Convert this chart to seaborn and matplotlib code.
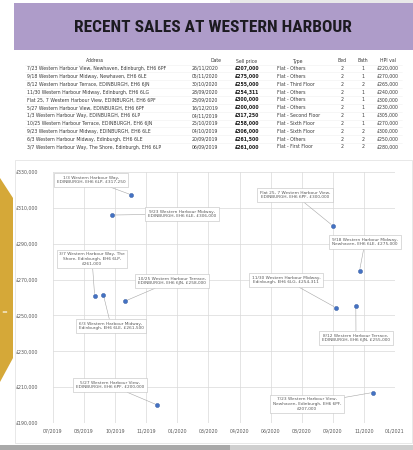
import matplotlib
matplotlib.use("Agg")
import matplotlib.pyplot as plt
import matplotlib.dates as mdates
import matplotlib.patches as mpatches
from matplotlib.ticker import FuncFormatter
from matplotlib import font_manager
import seaborn as sns
import pandas as pd

# ---------------- data ----------------
title = "RECENT SALES AT WESTERN HARBOUR"
columns = ["Address", "Date", "Sell price", "Type", "Bed", "Bath", "HPI val"]
addresses = [
    "7/23 Western Harbour View, Newhaven, Edinburgh, EH6 6PF",
    "9/18 Western Harbour Midway, Newhaven, EH6 6LE",
    "8/12 Western Harbour Terrace, EDINBURGH, EH6 6JN",
    "11/30 Western Harbour Midway, Edinburgh, EH6 6LG",
    "Flat 25, 7 Western Harbour View, EDINBURGH, EH6 6PF",
    "5/27 Western Harbour View, EDINBURGH, EH6 6PF",
    "1/3 Western Harbour Way, EDINBURGH, EH6 6LP",
    "10/25 Western Harbour Terrace, EDINBURGH, EH6 6JN",
    "9/23 Western Harbour Midway, EDINBURGH, EH6 6LE",
    "6/3 Western Harbour Midway, Edinburgh, EH6 6LE",
    "3/7 Western Harbour Way, The Shore, Edinburgh, EH6 6LP",
]
dates = ["26/11/2020", "05/11/2020", "30/10/2020", "28/09/2020", "23/09/2020",
         "16/12/2019", "04/11/2019", "25/10/2019", "04/10/2019", "20/09/2019",
         "06/09/2019"]
prices = [207000, 275000, 255000, 254311, 300000, 200000, 317250, 258000,
          306000, 261500, 261000]
types = ["Flat - Others", "Flat - Others", "Flat - Third Floor", "Flat - Others",
         "Flat - Others", "Flat - Others", "Flat - Second Floor", "Flat - Sixth Floor",
         "Flat - Sixth Floor", "Flat - Others", "Flat - First Floor"]
beds = [2, 2, 2, 2, 2, 2, 2, 2, 2, 2, 2]
baths = [1, 1, 2, 1, 1, 1, 1, 1, 2, 2, 2]
hpi_vals = [220000, 270000, 265000, 240000, 300000, 230000, 305000, 270000,
            300000, 250000, 280000]
point_labels = [
    "7/23 Western Harbour View,\nNewhaven, Edinburgh, EH6 6PF,\n£207,000",
    "9/18 Western Harbour Midway,\nNewhaven, EH6 6LE, £275,000",
    "8/12 Western Harbour Terrace,\nEDINBURGH, EH6 6JN, £255,000",
    "11/30 Western Harbour Midway,\nEdinburgh, EH6 6LG, £254,311",
    "Flat 25, 7 Western Harbour View,\nEDINBURGH, EH6 6PF, £300,000",
    "5/27 Western Harbour View,\nEDINBURGH, EH6 6PF, £200,000",
    "1/3 Western Harbour Way,\nEDINBURGH, EH6 6LP, £317,250",
    "10/25 Western Harbour Terrace,\nEDINBURGH, EH6 6JN, £258,000",
    "9/23 Western Harbour Midway,\nEDINBURGH, EH6 6LE, £306,000",
    "6/3 Western Harbour Midway,\nEdinburgh, EH6 6LE, £261,500",
    "3/7 Western Harbour Way, The\nShore, Edinburgh, EH6 6LP,\n£261,000",
]
x_tick_start = "2019-07-01"
x_tick_count = 12
x_tick_step = "50D"
y_ticks = [190000, 210000, 230000, 250000, 270000, 290000, 310000, 330000]

# ---------------- layout helpers ----------------
W, H = 413, 450
sns.set_theme(style="white")
plt.rcParams["font.family"] = ["DejaVu Sans"]
fig = plt.figure(figsize=(W / 100, H / 100), dpi=100)
fig.patch.set_facecolor("white")


def fx(x):
    return x / W


def fy(y):
    return 1 - y / H


def rect(x0, y0, x1, y1, **kw):
    fig.add_artist(mpatches.Rectangle((fx(x0), fy(y1)), fx(x1 - x0), (y1 - y0) / H,
                                      transform=fig.transFigure, zorder=-5, **kw))


# background pieces
rect(230, 0, 413, 3, facecolor="#e9e9e9", edgecolor="none")
rect(14, 3, 413, 50, facecolor="#ae9cc9", edgecolor="none")
rect(15, 160, 412, 443, facecolor="white", edgecolor="#e4e4e4", linewidth=0.6)
rect(0, 445, 230, 450, facecolor="#a9a9a9", edgecolor="none")
rect(230, 445, 413, 450, facecolor="#cfcfcf", edgecolor="none")
gold = mpatches.Polygon([(fx(0), fy(178)), (fx(13), fy(198)), (fx(13), fy(358)),
                         (fx(0), fy(382))], closed=True, transform=fig.transFigure,
                        facecolor="#d5a838", edgecolor="none", zorder=-4)
fig.add_artist(gold)
fig.text(fx(1), fy(312), "=", color="white", fontsize=5, ha="left", va="center")

# title: use a condensed face when one is installed
names = {f.name for f in font_manager.fontManager.ttflist}
cond = [n for n in ["Liberation Sans Narrow", "Roboto Condensed", "Open Sans Condensed",
                    "Noto Sans Condensed", "DejaVu Sans Condensed"] if n in names]
title_family = cond + ["Noto Sans", "DejaVu Sans"]
fig.text(fx(213), fy(27), title, ha="center", va="center", fontsize=12.5,
         fontweight="bold", fontstretch="condensed", color="#1c1a20",
         family=title_family)

# ---------------- table ----------------
tfs = 3.3
tcol = "#3a3a3a"
head_y = 61
row0 = 68.5
dy = 7.85
fig.text(fx(95), fy(head_y), columns[0], ha="center", va="center", fontsize=tfs, color=tcol)
fig.text(fx(216), fy(head_y), columns[1], ha="center", va="center", fontsize=tfs, color=tcol)
fig.text(fx(247), fy(head_y), columns[2], ha="center", va="center", fontsize=tfs, color=tcol)
fig.text(fx(297), fy(head_y), columns[3], ha="center", va="center", fontsize=tfs, color=tcol)
fig.text(fx(342), fy(head_y), columns[4], ha="center", va="center", fontsize=tfs, color=tcol)
fig.text(fx(363), fy(head_y), columns[5], ha="center", va="center", fontsize=tfs, color=tcol)
fig.text(fx(388), fy(head_y), columns[6], ha="center", va="center", fontsize=tfs, color=tcol)
for i in range(len(addresses)):
    y = row0 + i * dy
    fig.add_artist(plt.Line2D([fx(25), fx(402)], [fy(y - dy / 2), fy(y - dy / 2)],
                              transform=fig.transFigure, color="#efefef", lw=0.4))
    fig.text(fx(27), fy(y), addresses[i], ha="left", va="center", fontsize=tfs, color=tcol)
    fig.text(fx(218), fy(y), dates[i], ha="right", va="center", fontsize=tfs, color=tcol)
    fig.text(fx(247), fy(y), f"£{prices[i]:,}", ha="center", va="center",
             fontsize=tfs, color="#1a1a1a", fontweight="bold")
    fig.text(fx(277), fy(y), types[i], ha="left", va="center", fontsize=tfs, color=tcol)
    fig.text(fx(342), fy(y), str(beds[i]), ha="center", va="center", fontsize=tfs, color=tcol)
    fig.text(fx(363), fy(y), str(baths[i]), ha="center", va="center", fontsize=tfs, color=tcol)
    fig.text(fx(388), fy(y), f"£{hpi_vals[i]:,}", ha="center", va="center",
             fontsize=tfs, color=tcol)

# ---------------- chart ----------------
df = pd.DataFrame({
    "date": pd.to_datetime(dates, format="%d/%m/%Y"),
    "price": prices,
    "label": point_labels,
})
ax = fig.add_axes([fx(53), fy(423), fx(395 - 53), (423 - 172) / H])
ax.set_zorder(2)
ax.set_facecolor("white")
xticks = pd.date_range(x_tick_start, periods=x_tick_count, freq=x_tick_step)
ax.set_xticks(xticks)
ax.set_xlim(xticks[0], xticks[-1])
ax.xaxis.set_major_formatter(mdates.DateFormatter("%m/%Y"))
ax.set_yticks(y_ticks)
ax.set_ylim(y_ticks[0], y_ticks[-1])
ax.yaxis.set_major_formatter(FuncFormatter(lambda v, p: f"£{int(v):,}"))
ax.grid(True, color="#d9d9d9", linewidth=0.5)
ax.set_axisbelow(True)
for s in ax.spines.values():
    s.set_visible(False)
ax.tick_params(axis="both", length=0, labelsize=3.4, colors="#595959")
ax.tick_params(axis="y", pad=11)
ax.tick_params(axis="x", pad=4)

sns.scatterplot(data=df, x="date", y="price", ax=ax, color="#4472c4", s=9,
                edgecolor="#2f5597", linewidth=0.3, zorder=5, legend=False)
ax.set_xlabel("")
ax.set_ylabel("")

label_pos = [(307, 404), (365, 242), (356, 338), (286, 280), (295, 195),
             (110, 385), (91, 180), (172, 281), (182, 214), (111, 326), (92, 259)]
for (d, p, t), (lx, ly) in zip(zip(df["date"], df["price"], df["label"]), label_pos):
    ax.annotate(t, xy=(mdates.date2num(d), p), xytext=(lx, H - ly),
                textcoords="figure pixels", ha="center", va="center",
                fontsize=3.1, color="#595959", linespacing=1.3,
                bbox=dict(boxstyle="square,pad=0.6", facecolor="white",
                          edgecolor="#bfbfbf", linewidth=0.4),
                arrowprops=dict(arrowstyle="-", color="#a6a6a6", lw=0.4,
                                shrinkA=0, shrinkB=1.5),
                annotation_clip=False, zorder=4)

fig.savefig("out.png", dpi=100)
